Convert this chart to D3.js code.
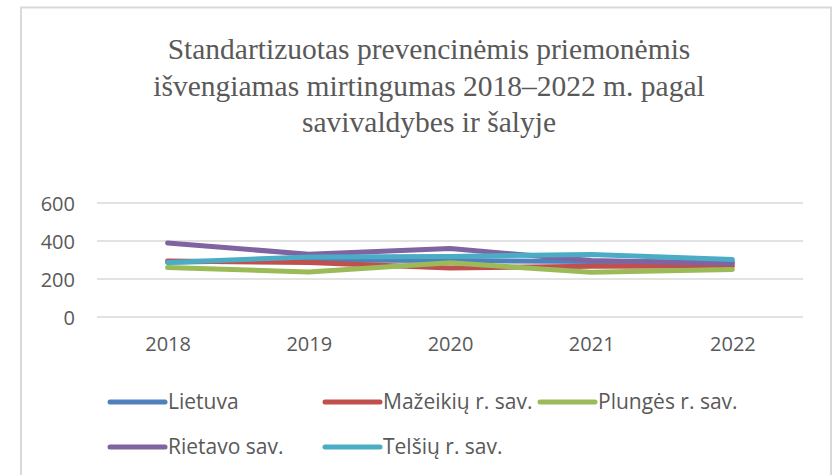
<!DOCTYPE html>
<html><head><meta charset="utf-8">
<script src="https://cdn.jsdelivr.net/npm/d3@7"></script>
<style>body{margin:0;background:#fff}svg{display:block}</style>
</head><body>
<svg id="c" width="836" height="475"></svg>
<script>
const years = ["2018","2019","2020","2021","2022"];
const seriesNames = ["Lietuva","Mažeikių r. sav.","Plungės r. sav.","Rietavo sav.","Telšių r. sav."];
const lietuva  = [288, 300, 297, 292, 290];
const mazeikiu = [295, 287, 258, 267, 268];
const plunges  = [260, 237, 285, 236, 250];
const rietavo  = [390, 330, 360, 297, 282];
const telsiu   = [287, 316, 319, 329, 303];
const yTicks = [0, 200, 400, 600];
const titleLines = ["Standartizuotas prevencinėmis priemonėmis","išvengiamas mirtingumas 2018–2022 m. pagal","savivaldybes ir šalyje"];
const colors = ["#4f81bd","#c0504d","#9bbb59","#8064a2","#4bacc6"];

const allSeries = [lietuva, mazeikiu, plunges, rietavo, telsiu].map((v,i)=>({name:seriesNames[i], values:v, color:colors[i]}));

const svg = d3.select("#c");
svg.append("rect").attr("x",21).attr("y",7.5).attr("width",810).attr("height",480)
  .attr("fill","#fff").attr("stroke","#d9d9d9").attr("stroke-width",2);

const title = svg.append("text").attr("text-anchor","middle").attr("fill","#595959")
  .style("font-family","'Liberation Serif','Times New Roman',serif").style("font-size","29.5px");
titleLines.forEach((t,i)=>title.append("tspan").attr("x",429).attr("y",59+i*36.5).text(t));

const x = d3.scalePoint().domain(years).range([97,803]).padding(0.5);
const y = d3.scaleLinear().domain([0,600]).range([317,203]);

svg.append("g").selectAll("line").data(yTicks).join("line")
  .attr("x1",97).attr("x2",803).attr("y1",d=>y(d)).attr("y2",d=>y(d))
  .attr("stroke","#d9d9d9").attr("stroke-width",1.5);

const yAxis = svg.append("g").attr("transform","translate(87,0)")
  .call(d3.axisLeft(y).tickValues(yTicks).tickSize(0).tickPadding(12));
yAxis.select(".domain").remove();
yAxis.selectAll("text").attr("fill","#595959").style("font-family","'Open Sans',sans-serif").style("font-size","20px").attr("dy","0.35em");

const xAxis = svg.append("g").attr("transform","translate(0,317)")
  .call(d3.axisBottom(x).tickSize(0).tickPadding(20));
xAxis.select(".domain").remove();
xAxis.selectAll("text").attr("fill","#595959").style("font-family","'Open Sans',sans-serif").style("font-size","20px");

const line = d3.line().x((d,i)=>x(years[i])).y(d=>y(d));
svg.append("g").selectAll("path").data(allSeries).join("path")
  .attr("d",d=>line(d.values)).attr("fill","none").attr("stroke",d=>d.color)
  .attr("stroke-width",5).attr("stroke-linecap","round").attr("stroke-linejoin","round");

const legendPos = [[110,402],[325,402],[540,402],[110,447],[325,447]];
const lg = svg.append("g").selectAll("g").data(allSeries).join("g")
  .attr("transform",(d,i)=>`translate(${legendPos[i][0]},${legendPos[i][1]})`);
lg.append("line").attr("x1",0).attr("x2",55).attr("stroke",d=>d.color).attr("stroke-width",5).attr("stroke-linecap","round");
lg.append("text").attr("x",58).attr("dy","0.35em").attr("fill","#595959")
  .style("font-family","'Open Sans',sans-serif").style("font-size","21px").text(d=>d.name);
</script>
</body></html>
